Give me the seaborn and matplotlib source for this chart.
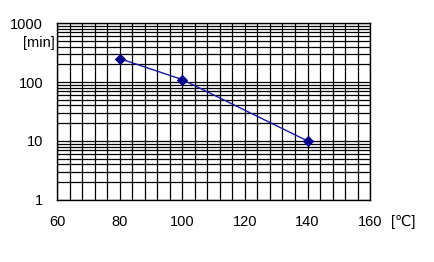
import matplotlib
matplotlib.use("Agg")
import matplotlib.pyplot as plt
import seaborn as sns
import numpy as np
import pandas as pd
from matplotlib.ticker import FixedLocator, NullFormatter, LogLocator

temps = [80, 100, 140]
minutes = [250, 110, 10]
x_ticks = [60, 80, 100, 120, 140, 160]
y_ticks = [1, 10, 100, 1000]
y_tick_labels = ["1", "10", "100", "1000"]

sns.set_style("white")
plt.rcParams['font.family'] = ['Liberation Sans', 'DejaVu Sans']
plt.rcParams['text.color'] = 'black'
plt.rcParams['xtick.color'] = 'black'
plt.rcParams['ytick.color'] = 'black'
plt.rcParams['axes.labelcolor'] = 'black'

fig = plt.figure(figsize=(4.35, 2.62), dpi=100)
ax = fig.add_axes([0.131, 0.237, 0.72, 0.675])

df = pd.DataFrame({"t": temps, "m": minutes})
sns.lineplot(data=df, x="t", y="m", ax=ax, color="#1a1aa0", linewidth=1.0,
             marker="D", markersize=5, markeredgecolor="#00008b",
             markerfacecolor="#00008b", zorder=5)

ax.set_yscale("log")
ax.set_xlim(60, 160)
ax.set_ylim(1, 1000)
ax.set_xticks(x_ticks)
ax.set_xticklabels([str(v) for v in x_ticks], fontsize=10.5, color="black")
ax.xaxis.set_minor_locator(FixedLocator(np.arange(60, 161, 4)))
ax.set_yticks(y_ticks)
ax.set_yticklabels(y_tick_labels, fontsize=10.5, color="black")
ax.yaxis.set_minor_locator(LogLocator(base=10, subs=np.arange(2, 10), numticks=20))
ax.yaxis.set_minor_formatter(NullFormatter())
ax.grid(True, which="both", axis="both", color="black", linewidth=0.9)
ax.tick_params(axis="x", which="both", length=0, pad=11)
ax.tick_params(axis="y", which="both", length=0, pad=10)
for s in ax.spines.values():
    s.set_color("black")
    s.set_linewidth(1.0)
ax.set_xlabel("")
ax.set_ylabel("")
ax.set_axisbelow(True)

fig.text(0.127, 0.835, "[min]", fontsize=10.5, ha="right", va="center", color="black")
fig.text(0.900, 0.152, "[℃]", fontsize=10.5, ha="left", va="center", color="black")

fig.savefig("out.png", dpi=100, facecolor="white")
